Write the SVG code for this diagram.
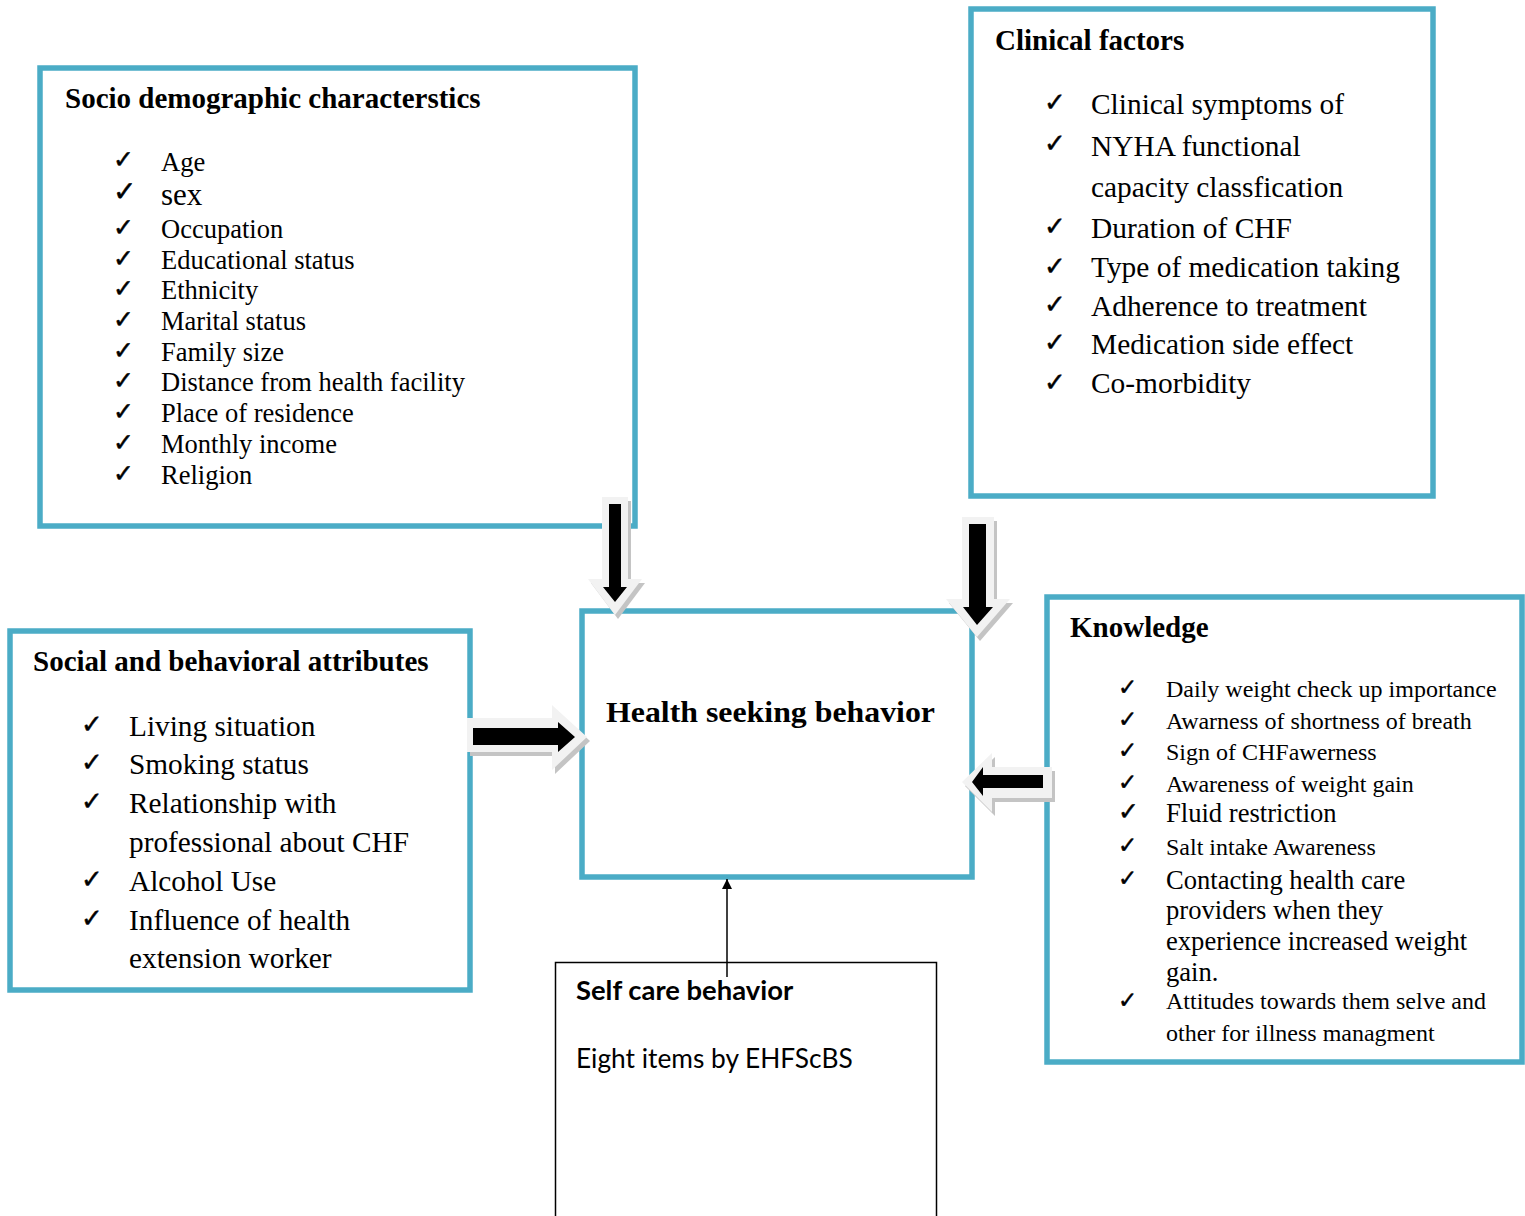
<svg xmlns="http://www.w3.org/2000/svg" width="1525" height="1216" viewBox="0 0 1525 1216">
<style>
.box{fill:#fff;stroke:#4BACC6;stroke-width:5.5}
.ttl{font-family:"Liberation Serif","Times New Roman",serif;font-weight:bold;font-size:29px;fill:#000}
.it{font-family:"Liberation Serif","Times New Roman",serif;fill:#000}
.ck{font-family:"DejaVu Sans",sans-serif;fill:#000;stroke:#000;stroke-width:0.5}
.cal{font-family:Lato,"Liberation Sans",sans-serif;fill:#000}
.outer{fill:#f2f2f2}
.shadow{fill:#c4c4c4}
.inner{fill:#000}
</style>
<defs>
<marker id="ah" viewBox="0 0 10 10" refX="10" refY="5" markerWidth="10" markerHeight="10" markerUnits="userSpaceOnUse" orient="auto">
<path d="M0,0 L10,5 L0,10 z" fill="#000"/>
</marker>
</defs>
<rect width="1525" height="1216" fill="#fff"/>

<g id="socio">
<rect class="box" x="40" y="68" width="595" height="458"/>
<text class="ttl" x="65" y="108">Socio demographic characterstics</text>
<g class="ck" font-size="25">
<text x="113" y="168">✓</text><text x="113" y="201" font-size="28">✓</text><text x="113" y="236">✓</text><text x="113" y="267">✓</text><text x="113" y="297">✓</text><text x="113" y="328">✓</text><text x="113" y="359">✓</text><text x="113" y="389">✓</text><text x="113" y="420">✓</text><text x="113" y="451">✓</text><text x="113" y="482">✓</text>
</g>
<g class="it" font-size="26.5">
<text x="161" y="171">Age</text>
<text x="161" y="205" font-size="31">sex</text>
<text x="161" y="238">Occupation</text>
<text x="161" y="269">Educational status</text>
<text x="161" y="299">Ethnicity</text>
<text x="161" y="330">Marital status</text>
<text x="161" y="361">Family size</text>
<text x="161" y="391">Distance from health facility</text>
<text x="161" y="422">Place of residence</text>
<text x="161" y="453">Monthly income</text>
<text x="161" y="484">Religion</text>
</g>
</g>

<g id="clinical">
<rect class="box" x="971" y="9" width="462" height="487"/>
<text class="ttl" x="995" y="50">Clinical factors</text>
<g class="ck" font-size="26">
<text x="1044" y="111">✓</text><text x="1044" y="152">✓</text><text x="1044" y="235">✓</text><text x="1044" y="275">✓</text><text x="1044" y="313">✓</text><text x="1044" y="351">✓</text><text x="1044" y="391">✓</text>
</g>
<g class="it" font-size="29.4">
<text x="1091" y="114">Clinical symptoms of</text>
<text x="1091" y="156">NYHA functional</text>
<text x="1091" y="197">capacity classfication</text>
<text x="1091" y="238">Duration of CHF</text>
<text x="1091" y="277">Type of medication taking</text>
<text x="1091" y="316">Adherence to treatment</text>
<text x="1091" y="354">Medication side effect</text>
<text x="1091" y="393">Co-morbidity</text>
</g>
</g>

<g id="social">
<rect class="box" x="10" y="631" width="460" height="359"/>
<text class="ttl" x="33" y="671">Social and behavioral attributes</text>
<g class="ck" font-size="26">
<text x="81" y="733">✓</text><text x="81" y="771">✓</text><text x="81" y="810">✓</text><text x="81" y="888">✓</text><text x="81" y="927">✓</text>
</g>
<g class="it" font-size="29.3">
<text x="129" y="736">Living situation</text>
<text x="129" y="774">Smoking status</text>
<text x="129" y="813">Relationship with</text>
<text x="129" y="852">professional about CHF</text>
<text x="129" y="891">Alcohol Use</text>
<text x="129" y="930">Influence of health</text>
<text x="129" y="968">extension worker</text>
</g>
</g>

<g id="health">
<rect class="box" x="582" y="611" width="390" height="266"/>
<text class="ttl" x="606" y="722" font-size="34" textLength="329" lengthAdjust="spacingAndGlyphs">Health seeking behavior</text>
</g>

<g id="knowledge">
<rect class="box" x="1047" y="597" width="475" height="465"/>
<text class="ttl" x="1070" y="637">Knowledge</text>
<g class="ck" font-size="23">
<text x="1118" y="695">✓</text><text x="1118" y="727">✓</text><text x="1118" y="758">✓</text><text x="1118" y="790">✓</text><text x="1118" y="820" font-size="25">✓</text><text x="1118" y="853">✓</text><text x="1118" y="886">✓</text><text x="1118" y="1008">✓</text>
</g>
<g class="it" font-size="24">
<text x="1166" y="697">Daily weight check up importance</text>
<text x="1166" y="729">Awarness of shortness of breath</text>
<text x="1166" y="760">Sign of CHFawerness</text>
<text x="1166" y="792">Awareness of weight gain</text>
<text x="1166" y="822" font-size="26.6">Fluid restriction</text>
<text x="1166" y="855">Salt intake Awareness</text>
<text x="1166" y="889" font-size="26.6">Contacting health care</text>
<text x="1166" y="919" font-size="26.6">providers when they</text>
<text x="1166" y="950" font-size="26.6">experience increased weight</text>
<text x="1166" y="981" font-size="26.6">gain.</text>
<text x="1166" y="1009">Attitudes towards them selve and</text>
<text x="1166" y="1041">other for illness managment</text>
</g>
</g>

<g id="selfcare">
<rect x="555.5" y="962.5" width="381" height="300" fill="#fff" stroke="#000" stroke-width="1.5"/>
<text class="cal" x="576" y="1000" font-size="27.4" font-weight="bold">Self care behavior</text>
<text class="cal" x="576" y="1068" font-size="26.3">Eight items by EHFScBS</text>
</g>

<g id="connectors">
<g id="arrow-socio">
<polygon class="shadow" transform="translate(3,4)" points="602,497 628,497 628,579 642,579 615,615 588,579 602,579"/>
<polygon class="outer" points="602,497 628,497 628,579 642,579 615,615 588,579 602,579"/>
<polygon class="inner" points="609,504 621,504 621,587 627,587 615,602 603,587 609,587"/>
</g>
<g id="arrow-clinical">
<polygon class="shadow" transform="translate(3,4)" points="962,517 994,517 994,599 1010,599 977,637 946,599 962,599"/>
<polygon class="outer" points="962,517 994,517 994,599 1010,599 977,637 946,599 962,599"/>
<polygon class="inner" points="969,524 986,524 986,607 993,607 977,625 963,607 969,607"/>
</g>
<g id="arrow-social">
<polygon class="shadow" transform="translate(3,4)" points="467,718 552,718 552,705 587,737 552,770 552,752 467,752"/>
<polygon class="outer" points="467,718 552,718 552,705 587,737 552,770 552,752 467,752"/>
<polygon class="inner" points="473,728 558,728 558,722 575,737 558,752 558,745 473,745"/>
</g>
<g id="arrow-knowledge">
<polygon class="shadow" transform="translate(3,4)" points="1052,767 992,767 992,753 962,782 992,812 992,798 1052,798"/>
<polygon class="outer" points="1052,767 992,767 992,753 962,782 992,812 992,798 1052,798"/>
<polygon class="inner" points="1043,775 983,775 983,767 972,782 983,796 983,788 1043,788"/>
</g>
<line id="arrow-selfcare" x1="727" y1="977" x2="727" y2="879" stroke="#000" stroke-width="1.5" marker-end="url(#ah)"/>
</g>
</svg>
